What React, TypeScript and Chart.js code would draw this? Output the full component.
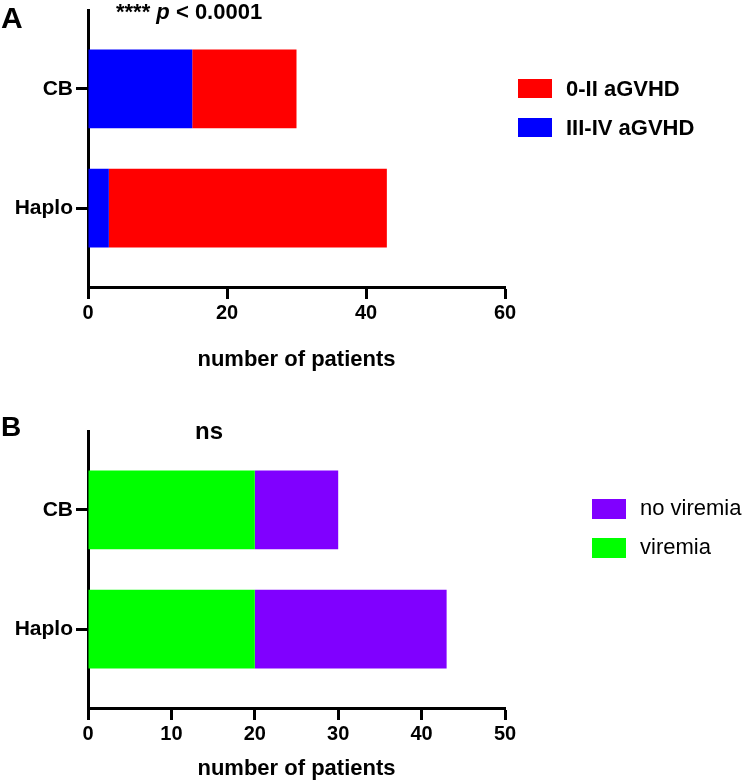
import React, { useEffect, useRef } from 'react';
import { Chart, registerables } from 'chart.js';

Chart.register(...registerables);

// shared categories (top to bottom)
const categories = ['CB', 'Haplo'];

// panel A: acute GVHD grade
const gvhdSevere = [15, 3]; // III-IV aGVHD
const gvhdMild = [15, 40]; // 0-II aGVHD
const gvhdTicks = [0, 20, 40, 60];

// panel B: viremia
const viremia = [20, 20];
const noViremia = [10, 23];
const viremiaTicks = [0, 10, 20, 30, 40, 50];

const FONT = '"Liberation Sans", Arial, Helvetica, sans-serif';
const AREA_LEFT = 88;
const AREA_RIGHT = 505;
const PAGE_W = 744;
// empty space above the first / below the last bar, in category units
const CAT_GAP = 0.66;

type Series = { label: string; values: number[]; color: string };

const seriesA: Series[] = [
  { label: 'III-IV aGVHD', values: gvhdSevere, color: '#0000ff' },
  { label: '0-II aGVHD', values: gvhdMild, color: '#ff0000' },
];
const seriesB: Series[] = [
  { label: 'viremia', values: viremia, color: '#00ff00' },
  { label: 'no viremia', values: noViremia, color: '#8000ff' },
];

type PanelProps = {
  series: Series[];
  ticks: number[];
  top: number;
  height: number;
  areaTop: number;
  areaBottom: number;
  titlePad: number;
};

const StackedPanel = ({ series, ticks, top, height, areaTop, areaBottom, titlePad }: PanelProps) => {
  const canvasRef = useRef<HTMLCanvasElement>(null);

  useEffect(() => {
    const chart = new Chart(canvasRef.current!, {
      type: 'bar',
      data: {
        labels: categories,
        datasets: series.map((s) => ({
          label: s.label,
          data: s.values,
          backgroundColor: s.color,
          borderWidth: 0,
          categoryPercentage: 1,
          barPercentage: 0.66,
        })),
      },
      options: {
        indexAxis: 'y',
        animation: false,
        responsive: true,
        maintainAspectRatio: false,
        layout: { padding: { top: areaTop, right: PAGE_W - AREA_RIGHT, left: 0, bottom: 0 } },
        plugins: {
          legend: { display: false },
          title: { display: false },
          tooltip: { enabled: false },
        },
        scales: {
          x: {
            type: 'linear',
            stacked: true,
            min: ticks[0],
            max: ticks[ticks.length - 1],
            ticks: {
              stepSize: ticks[1] - ticks[0],
              color: '#000',
              padding: 2,
              font: { family: FONT, size: 20, weight: 'bold' },
            },
            grid: { drawOnChartArea: false, tickLength: 12, tickWidth: 3, tickColor: '#000' },
            border: { color: '#000', width: 3 },
            title: {
              display: true,
              text: 'number of patients',
              color: '#000',
              padding: { top: 0, bottom: titlePad },
              font: { family: FONT, size: 22, weight: 'bold' },
            },
            afterFit: (s: any) => {
              s.height = height - areaBottom;
              s.paddingLeft = 0;
              s.paddingRight = 0;
            },
          },
          y: {
            type: 'category',
            stacked: true,
            offset: false,
            afterBuildTicks: (s: any) => {
              // wider margin than the default half-band offset
              s._startValue = -CAT_GAP;
              s._valueRange = categories.length - 1 + 2 * CAT_GAP;
            },
            ticks: {
              color: '#000',
              padding: 3,
              font: { family: FONT, size: 21, weight: 'bold' },
            },
            grid: {
              offset: false,
              drawOnChartArea: false,
              tickLength: 12,
              tickWidth: 3,
              tickColor: '#000',
            },
            border: { color: '#000', width: 3 },
            afterFit: (s: any) => {
              s.width = AREA_LEFT;
              s.paddingTop = 0;
              s.paddingBottom = 0;
            },
          },
        },
      },
    });

    return () => {
      chart.destroy();
    };
  }, []);

  return (
    <div style={{ position: 'absolute', left: 0, top, width: PAGE_W, height }}>
      <canvas ref={canvasRef} />
    </div>
  );
};

type LegendProps = {
  series: Series[];
  boxLeft: number;
  boxTop: number;
  boxH: number;
  textLeft: number;
  textTop: number;
  bold: boolean;
};

// legend lists the top stack segment first
const Legend = ({ series, boxLeft, boxTop, boxH, textLeft, textTop, bold }: LegendProps) => (
  <>
    {[...series].reverse().map((s, i) => (
      <React.Fragment key={s.label}>
        <div
          style={{
            position: 'absolute',
            left: boxLeft,
            top: boxTop + i * 39,
            width: 34,
            height: boxH,
            background: s.color,
          }}
        />
        <div
          style={{
            position: 'absolute',
            left: textLeft,
            top: textTop + i * 39,
            fontSize: 22,
            lineHeight: '26.4px',
            fontWeight: bold ? 'bold' : 'normal',
            whiteSpace: 'nowrap',
          }}
        >
          {s.label}
        </div>
      </React.Fragment>
    ))}
  </>
);

const label = (left: number, top: number, size: number): React.CSSProperties => ({
  position: 'absolute',
  left,
  top,
  fontSize: size,
  lineHeight: `${size * 1.2}px`,
  fontWeight: 'bold',
  whiteSpace: 'nowrap',
});

const App = () => {
  return (
    <div
      style={{
        position: 'absolute',
        left: 0,
        top: 0,
        width: PAGE_W,
        height: 782,
        overflow: 'hidden',
        background: '#fff',
        color: '#000',
        fontFamily: FONT,
      }}
    >
      <StackedPanel series={seriesA} ticks={gvhdTicks} top={0} height={380} areaTop={10} areaBottom={287} titlePad={7} />
      <StackedPanel series={seriesB} ticks={viremiaTicks} top={380} height={402} areaTop={51} areaBottom={328} titlePad={0} />

      <div style={label(1, 0, 30)}>A</div>
      <div style={label(116, -1, 22)}>
        **** <i>p</i> &lt; 0.0001
      </div>
      <Legend series={seriesA} boxLeft={518} boxTop={79} boxH={19} textLeft={566} textTop={76} bold={true} />

      <div style={label(1, 410, 28)}>B</div>
      <div style={label(195, 417, 24)}>ns</div>
      <Legend series={seriesB} boxLeft={592} boxTop={499} boxH={20} textLeft={640} textTop={495} bold={false} />
    </div>
  );
};

export default App;
